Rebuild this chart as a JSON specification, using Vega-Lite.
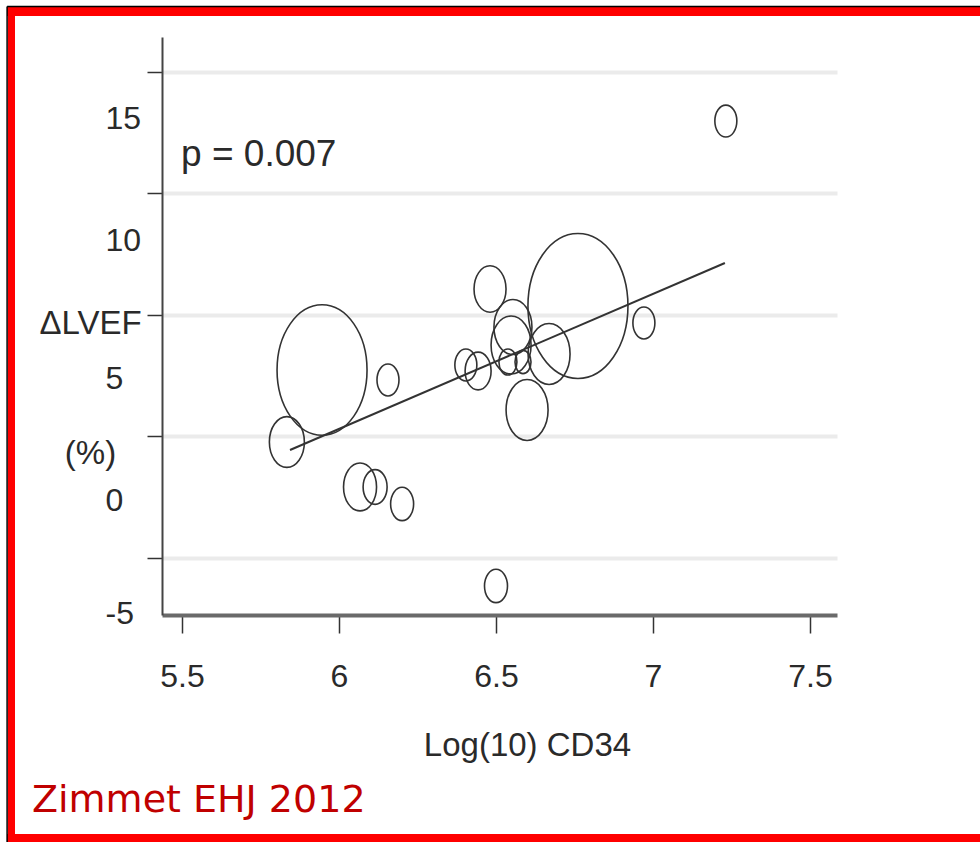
{
  "$schema": "https://vega.github.io/schema/vega-lite/v6.json",
  "width": 675,
  "height": 578,
  "autosize": {"type": "none"},
  "padding": {"left": 162, "top": 37, "right": 143, "bottom": 227},
  "background": "white",
  "config": {"view": {"stroke": null}},
  "datasets": {
    "studies": [
      {"cd34": 5.946, "lvef": 2.737, "weight": 81},
      {"cd34": 5.834, "lvef": -0.226, "weight": 12.25},
      {"cd34": 6.156, "lvef": 2.325, "weight": 4.84},
      {"cd34": 6.067, "lvef": -2.078, "weight": 10.9},
      {"cd34": 6.115, "lvef": -2.078, "weight": 5.76},
      {"cd34": 6.201, "lvef": -2.778, "weight": 5.29},
      {"cd34": 6.404, "lvef": 2.942, "weight": 4.84},
      {"cd34": 6.443, "lvef": 2.695, "weight": 6.76},
      {"cd34": 6.481, "lvef": 6.07, "weight": 10.24},
      {"cd34": 6.554, "lvef": 4.506, "weight": 14.44},
      {"cd34": 6.548, "lvef": 3.765, "weight": 16},
      {"cd34": 6.538, "lvef": 3.066, "weight": 3.24},
      {"cd34": 6.586, "lvef": 3.066, "weight": 2.56},
      {"cd34": 6.669, "lvef": 3.395, "weight": 17.64},
      {"cd34": 6.599, "lvef": 1.091, "weight": 17.64},
      {"cd34": 6.761, "lvef": 5.37, "weight": 100},
      {"cd34": 6.971, "lvef": 4.671, "weight": 4.84},
      {"cd34": 7.232, "lvef": 12.98, "weight": 4.84},
      {"cd34": 6.5, "lvef": -6.152, "weight": 5.29}
    ],
    "fit": [
      {"cd34": 5.844, "lvef": -0.556},
      {"cd34": 7.229, "lvef": 7.14}
    ]
  },
  "layer": [
    {
      "data": {"name": "studies"},
      "mark": {
        "type": "point",
        "shape": "M1,0C1,0.8008 0.5523,1.45 0,1.45C-0.5523,1.45 -1,0.8008 -1,0C-1,-0.8008 -0.5523,-1.45 0,-1.45C0.5523,-1.45 1,-0.8008 1,0Z",
        "filled": false,
        "stroke": "#333333",
        "strokeWidth": 1.6,
        "opacity": 1
      },
      "encoding": {
        "x": {
          "field": "cd34",
          "type": "quantitative",
          "scale": {"domain": [5.4363, 7.586], "nice": false, "zero": false},
          "axis": {
            "title": "Log(10) CD34",
            "values": [5.5, 6, 6.5, 7, 7.5],
            "labelExpr": "'' + datum.value",
            "labelFont": "Liberation Sans, Arial, sans-serif",
            "labelFontSize": 32,
            "labelColor": "#2a2a2a",
            "labelPadding": 28,
            "labelFlush": false,
            "labelOverlap": false,
            "tickSize": 18,
            "tickWidth": 1.5,
            "tickColor": "#333333",
            "domainColor": "#6a6a6a",
            "domainWidth": 4,
            "grid": false,
            "titleFont": "Liberation Sans, Arial, sans-serif",
            "titleFontSize": 33,
            "titleFontWeight": "normal",
            "titleColor": "#2a2a2a",
            "titleX": 365,
            "titleY": 114,
            "titleAlign": "center",
            "titleBaseline": "top"
          }
        },
        "y": {
          "field": "lvef",
          "type": "quantitative",
          "scale": {"domain": [-7.346, 16.44], "nice": false, "zero": false},
          "axis": {
            "title": ["ΔLVEF", "(%)"],
            "values": [-5, 0, 5, 10, 15],
            "labelExpr": "'' + datum.value",
            "labelFont": "Liberation Sans, Arial, sans-serif",
            "labelFontSize": 32,
            "labelColor": "#2a2a2a",
            "labelAlign": "left",
            "labelPadding": 42,
            "labelOffset": {"condition": [{"test": "datum.value >= 10", "value": 47}, {"test": "datum.value == 5 || datum.value == 0", "value": 64}], "value": 56},
            "labelFlush": false,
            "labelOverlap": false,
            "tickSize": 15,
            "tickWidth": 1.5,
            "tickColor": "#333333",
            "domainColor": "#444444",
            "domainWidth": 2,
            "grid": true,
            "gridColor": "#ebebeb",
            "gridWidth": 4,
            "titleFont": "Liberation Sans, Arial, sans-serif",
            "titleFontSize": 33,
            "titleFontWeight": "normal",
            "titleColor": "#2a2a2a",
            "titleAngle": 0,
            "titleAlign": "center",
            "titleBaseline": "middle",
            "titleLineHeight": 130,
            "titleX": -72,
            "titleY": 286
          }
        },
        "size": {
          "field": "weight",
          "type": "quantitative",
          "scale": {"type": "linear", "domain": [0, 100], "range": [0, 10000], "zero": true},
          "legend": null
        }
      }
    },
    {
      "data": {"name": "fit"},
      "mark": {"type": "line", "color": "#333333", "strokeWidth": 2},
      "encoding": {
        "x": {"field": "cd34", "type": "quantitative"},
        "y": {"field": "lvef", "type": "quantitative"}
      }
    },
    {
      "data": {"values": [{"label": "p = 0.007"}]},
      "mark": {
        "type": "text",
        "align": "left",
        "baseline": "middle",
        "font": "Liberation Sans, Arial, sans-serif",
        "fontSize": 37,
        "color": "#2a2a2a"
      },
      "encoding": {
        "x": {"datum": 5.497, "type": "quantitative"},
        "y": {"datum": 11.58, "type": "quantitative"},
        "text": {"field": "label"}
      }
    },
    {
      "data": {"values": [{"label": "Zimmet EHJ 2012"}]},
      "mark": {
        "type": "text",
        "align": "left",
        "baseline": "alphabetic",
        "font": "DejaVu Sans, Verdana, sans-serif",
        "fontSize": 38,
        "color": "#c00000",
        "clip": false
      },
      "encoding": {
        "x": {"datum": 5.0223, "type": "quantitative"},
        "y": {"datum": -15.45, "type": "quantitative"},
        "text": {"field": "label"}
      }
    },
    {
      "data": {"values": [{"side": "top"}]},
      "mark": {"type": "rule", "color": "#ff0000", "strokeWidth": 9, "clip": false},
      "encoding": {
        "x": {"datum": 4.943, "type": "quantitative"},
        "x2": {"datum": 8.4},
        "y": {"datum": 17.49, "type": "quantitative"}
      }
    },
    {
      "data": {"values": [{"side": "left"}]},
      "mark": {"type": "rule", "color": "#ff0000", "strokeWidth": 7, "clip": false},
      "encoding": {
        "x": {"datum": 4.957, "type": "quantitative"},
        "y": {"datum": 17.7, "type": "quantitative"},
        "y2": {"datum": -17.5}
      }
    },
    {
      "data": {"values": [{"side": "bottom"}]},
      "mark": {"type": "rule", "color": "#ff0000", "strokeWidth": 9, "clip": false},
      "encoding": {
        "x": {"datum": 4.943, "type": "quantitative"},
        "x2": {"datum": 8.4},
        "y": {"datum": -16.54, "type": "quantitative"}
      }
    },
    {
      "data": {"values": [{"side": "outer top"}]},
      "mark": {"type": "rule", "color": "#000000", "strokeWidth": 1.5, "clip": false},
      "encoding": {
        "x": {"datum": 4.943, "type": "quantitative"},
        "x2": {"datum": 8.4},
        "y": {"datum": 17.695, "type": "quantitative"}
      }
    },
    {
      "data": {"values": [{"side": "outer left"}]},
      "mark": {"type": "rule", "color": "#000000", "strokeWidth": 1.5, "clip": false},
      "encoding": {
        "x": {"datum": 4.943, "type": "quantitative"},
        "y": {"datum": 17.695, "type": "quantitative"},
        "y2": {"datum": -17.5}
      }
    }
  ]
}
